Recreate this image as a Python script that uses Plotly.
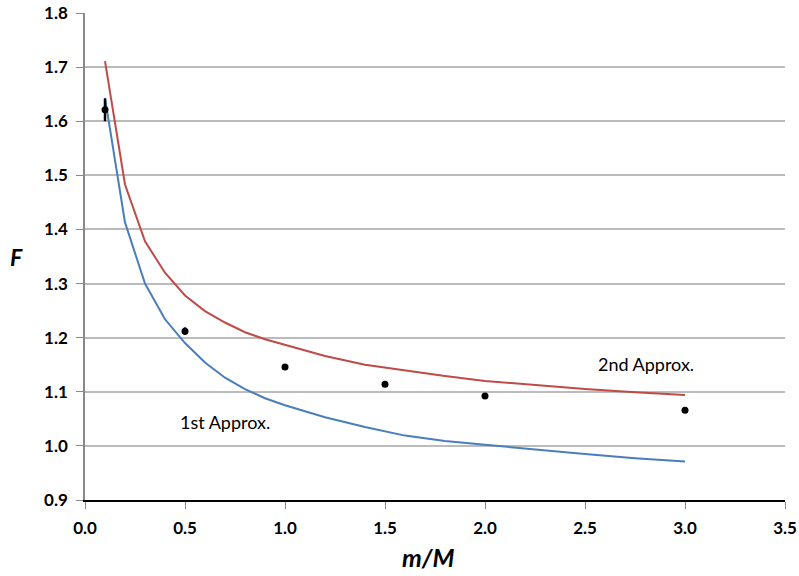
import plotly.graph_objects as go

# Data
x_curve = [0.1, 0.2, 0.3, 0.4, 0.5, 0.6, 0.7, 0.8, 0.9, 1.0,
           1.2, 1.4, 1.6, 1.8, 2.0, 2.25, 2.5, 2.75, 3.0]
first_approx = [1.643, 1.413, 1.300, 1.234, 1.190, 1.154, 1.126, 1.105, 1.088, 1.075,
                1.053, 1.035, 1.019, 1.009, 1.002, 0.993, 0.985, 0.977, 0.971]
second_approx = [1.711, 1.483, 1.378, 1.320, 1.278, 1.249, 1.228, 1.210, 1.197, 1.187,
                 1.166, 1.150, 1.139, 1.129, 1.120, 1.112, 1.105, 1.099, 1.094]
x_data = [0.1, 0.5, 1.0, 1.5, 2.0, 3.0]
y_data = [1.621, 1.212, 1.146, 1.114, 1.092, 1.066]
y_err = [0.021, 0.007, 0.0, 0.0, 0.0, 0.0]

x_ticks = [0.0, 0.5, 1.0, 1.5, 2.0, 2.5, 3.0, 3.5]
y_ticks = [0.9, 1.0, 1.1, 1.2, 1.3, 1.4, 1.5, 1.6, 1.7, 1.8]

FONT = "Lato, Liberation Sans, sans-serif"

fig = go.Figure()
fig.add_trace(go.Scatter(x=x_curve, y=first_approx, mode="lines",
                         line=dict(color="#4A7EBB", width=2), showlegend=False))
fig.add_trace(go.Scatter(x=x_curve, y=second_approx, mode="lines",
                         line=dict(color="#BE4B48", width=2), showlegend=False))
fig.add_trace(go.Scatter(x=x_data, y=y_data, mode="markers",
                         marker=dict(color="black", size=7),
                         error_y=dict(type="data", array=y_err, color="black",
                                      thickness=2.5, width=0),
                         showlegend=False))

fig.add_annotation(x=0.70, y=1.045, text="1st Approx.", showarrow=False,
                   font=dict(family=FONT, size=18, color="black"))
fig.add_annotation(x=2.805, y=1.152, text="2nd Approx.", showarrow=False,
                   font=dict(family=FONT, size=18, color="black"))

# axis titles
fig.add_annotation(xref="paper", yref="paper", x=(428 - 85) / 700, y=-(557 - 500) / 487,
                   xanchor="center", yanchor="middle",
                   text="<b><i>m/M</i></b>", showarrow=False,
                   font=dict(family=FONT, size=25, color="black"))
fig.add_annotation(xref="paper", yref="paper", x=-(85 - 16) / 700, y=(500 - 257) / 487,
                   xanchor="center", yanchor="middle",
                   text="<b><i>F</i></b>", showarrow=False,
                   font=dict(family=FONT, size=23, color="black"))

tickfont = dict(family=FONT, size=17, color="black")
fig.update_xaxes(range=[0, 3.5], tickvals=x_ticks,
                 ticktext=[f"<b>{v:.1f}</b>" for v in x_ticks],
                 showgrid=False, zeroline=False, automargin=False,
                 showline=True, linecolor="black", linewidth=1.5,
                 ticks="outside", ticklen=7, tickcolor="#888888", tickwidth=1,
                 ticklabelstandoff=5,
                 tickfont=tickfont)
fig.update_yaxes(range=[0.9, 1.8], tickvals=y_ticks,
                 ticktext=[f"<b>{v:.1f}</b>" for v in y_ticks],
                 showgrid=True, gridcolor="#BBBBBB", gridwidth=1.5, zeroline=False,
                 automargin=False,
                 showline=True, linecolor="#888888", linewidth=1.5,
                 ticks="outside", ticklen=7, tickcolor="#888888", tickwidth=1,
                 ticklabelstandoff=5,
                 tickfont=tickfont)

fig.update_layout(width=799, height=576,
                  margin=dict(l=85, r=14, t=13, b=76),
                  plot_bgcolor="white", paper_bgcolor="white")

fig.write_html("out.html",
               config={"displayModeBar": False},
               post_script="document.body.style.margin='0';document.body.style.overflow='hidden';")
